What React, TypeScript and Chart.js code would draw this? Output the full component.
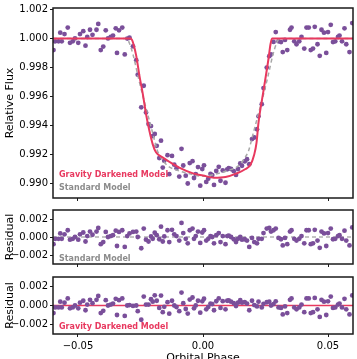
import React, { useEffect, useRef } from 'react';
import { Chart, registerables } from 'chart.js';

Chart.register(...registerables);

// ---------- data ----------
const phase = [
  -0.0598, -0.0591, -0.0578, -0.0571, -0.0565, -0.0554, -0.0541, -0.0532, -0.0521, -0.0512,
  -0.0499, -0.0492, -0.0479, -0.0470, -0.0463, -0.0452, -0.0442, -0.0426, -0.0419, -0.0409,
  -0.0399, -0.0389, -0.0380, -0.0369, -0.0360, -0.0349, -0.0344, -0.0336, -0.0323, -0.0313,
  -0.0303, -0.0294, -0.0280, -0.0267, -0.0261, -0.0247, -0.0237, -0.0228, -0.0218, -0.0208,
  -0.0201, -0.0193, -0.0185, -0.0175, -0.0168, -0.0161, -0.0155, -0.0142, -0.0135, -0.0124,
  -0.0115, -0.0106, -0.0095, -0.0086, -0.0079, -0.0069, -0.0061, -0.0053, -0.0042, -0.0036,
  -0.0029, -0.0020, -0.0011, -0.0003, 0.0004, 0.0013, 0.0021, 0.0030, 0.0037, 0.0044,
  0.0053, 0.0063, 0.0070, 0.0079, 0.0090, 0.0097, 0.0103, 0.0112, 0.0123, 0.0132,
  0.0140, 0.0149, 0.0156, 0.0167, 0.0176, 0.0185, 0.0196, 0.0205, 0.0216, 0.0222,
  0.0235, 0.0242, 0.0255, 0.0265, 0.0272, 0.0282, 0.0291, 0.0302, 0.0312, 0.0319,
  0.0328, 0.0337, 0.0348, 0.0354, 0.0365, 0.0374, 0.0385, 0.0394, 0.0405, 0.0414,
  0.0423, 0.0431, 0.0440, 0.0447, 0.0458, 0.0467, 0.0474, 0.0484, 0.0493, 0.0500,
  0.0511, 0.0520, 0.0529, 0.0540, 0.0546, 0.0556, 0.0566, 0.0573, 0.0586, 0.0597,
];

const flux = [
  0.99920, 0.99980, 0.99980, 1.00040, 0.99980, 1.00030, 1.00075, 0.99970, 0.99980, 1.00000,
  0.99970, 1.00030, 1.00050, 0.99950, 1.00010, 1.00060, 1.00025, 1.00060, 1.00100, 0.99920,
  0.99944, 1.00056, 1.00000, 1.00010, 1.00020, 1.00070, 0.99900, 1.00056, 1.00075, 0.99890,
  0.99999, 1.00005, 0.99946, 0.99850, 0.99750, 0.99525, 0.99674, 0.99490, 0.99410, 0.99396,
  0.99327, 0.99342, 0.99260, 0.99175, 0.99295, 0.99110, 0.99156, 0.99195, 0.99064, 0.99190,
  0.99130, 0.99105, 0.99048, 0.99239, 0.99124, 0.99054, 0.99000, 0.99141, 0.99154, 0.99038,
  0.99065, 0.99113, 0.98985, 0.99100, 0.99125, 0.99011, 0.99033, 0.99066, 0.99058, 0.98990,
  0.99086, 0.99115, 0.99019, 0.99090, 0.99005, 0.99098, 0.99105, 0.99100, 0.99085, 0.99059,
  0.99100, 0.99138, 0.99122, 0.99152, 0.99167, 0.99133, 0.99306, 0.99317, 0.99374, 0.99463,
  0.99547, 0.99658, 0.99799, 0.99878, 0.99890, 0.99976, 1.00044, 0.99980, 0.99975, 0.99906,
  0.99990, 0.99920, 1.00060, 1.00075, 0.99980, 0.99960, 0.99980, 1.00010, 0.99930, 1.00075,
  1.00075, 0.99920, 0.99930, 1.00080, 0.99960, 0.99880, 1.00060, 1.00040, 0.99900, 1.00044,
  1.00094, 0.99975, 0.99980, 1.00010, 1.00020, 0.99980, 1.00070, 0.99960, 0.99906, 1.00106,
];

const residStd = [
  -0.00080, -0.00020, -0.00020, 0.00040, -0.00020, 0.00030, 0.00075, -0.00030, -0.00020, 0.00000,
  -0.00030, 0.00030, 0.00050, -0.00050, 0.00010, 0.00060, 0.00025, 0.00060, 0.00100, -0.00080,
  -0.00056, 0.00056, 0.00000, 0.00010, 0.00020, 0.00070, -0.00100, 0.00056, 0.00075, -0.00110,
  0.00010, 0.00040, 0.00056, 0.00060, 0.00000, -0.00125, 0.00094, -0.00030, -0.00050, 0.00006,
  -0.00020, 0.00047, 0.00020, -0.00025, 0.00115, -0.00050, 0.00006, 0.00075, -0.00056, 0.00080,
  0.00030, 0.00010, -0.00040, 0.00156, 0.00044, -0.00020, -0.00070, 0.00075, 0.00094, -0.00020,
  0.00010, 0.00060, -0.00066, 0.00050, 0.00075, -0.00040, -0.00020, 0.00010, 0.00000, -0.00070,
  0.00020, 0.00044, -0.00056, 0.00010, -0.00080, 0.00010, 0.00015, 0.00000, -0.00025, -0.00056,
  -0.00020, 0.00000, -0.00030, -0.00025, -0.00040, -0.00110, -0.00010, -0.00056, -0.00070, -0.00020,
  -0.00020, 0.00044, 0.00094, 0.00100, 0.00060, 0.00075, 0.00094, -0.00010, -0.00025, -0.00094,
  -0.00010, -0.00080, 0.00060, 0.00075, -0.00020, -0.00040, -0.00020, 0.00010, -0.00070, 0.00075,
  0.00075, -0.00080, -0.00070, 0.00080, -0.00040, -0.00120, 0.00060, 0.00040, -0.00100, 0.00044,
  0.00094, -0.00025, -0.00020, 0.00010, 0.00020, -0.00020, 0.00070, -0.00040, -0.00094, 0.00106,
];

const residGD = [
  -0.00080, -0.00020, -0.00020, 0.00040, -0.00020, 0.00030, 0.00075, -0.00030, -0.00020, 0.00000,
  -0.00030, 0.00030, 0.00050, -0.00050, 0.00010, 0.00060, 0.00025, 0.00060, 0.00100, -0.00080,
  -0.00056, 0.00056, 0.00000, 0.00010, 0.00020, 0.00070, -0.00100, 0.00056, 0.00075, -0.00110,
  0.00000, 0.00005, -0.00004, 0.00000, -0.00060, -0.00150, 0.00094, 0.00010, 0.00010, 0.00066,
  0.00040, 0.00107, 0.00050, -0.00025, 0.00105, -0.00070, -0.00014, 0.00035, -0.00086, 0.00050,
  0.00000, -0.00016, -0.00060, 0.00136, 0.00024, -0.00037, -0.00085, 0.00062, 0.00084, -0.00030,
  0.00000, 0.00050, -0.00076, 0.00044, 0.00071, -0.00040, -0.00015, 0.00020, 0.00015, -0.00050,
  0.00045, 0.00074, -0.00026, 0.00046, -0.00040, 0.00050, 0.00055, 0.00040, 0.00025, -0.00006,
  0.00030, 0.00056, 0.00030, 0.00035, 0.00020, -0.00050, 0.00050, 0.00004, -0.00010, 0.00040,
  -0.00020, 0.00018, 0.00034, 0.00040, 0.00000, 0.00015, 0.00044, -0.00020, -0.00025, -0.00094,
  -0.00010, -0.00080, 0.00060, 0.00075, -0.00020, -0.00040, -0.00020, 0.00010, -0.00070, 0.00075,
  0.00075, -0.00080, -0.00070, 0.00080, -0.00040, -0.00120, 0.00060, 0.00040, -0.00100, 0.00044,
  0.00094, -0.00025, -0.00020, 0.00010, 0.00020, -0.00020, 0.00070, -0.00040, -0.00094, 0.00106,
];

const stdModelPhase = [
  -0.0600, -0.0306, -0.0295, -0.0280, -0.0260, -0.0240, -0.0220, -0.0200, -0.0183, -0.0165,
  -0.0140, -0.0100, -0.0050, 0.0000, 0.0050, 0.0100, 0.0140, 0.0165, 0.0183, 0.0200,
  0.0220, 0.0240, 0.0260, 0.0280, 0.0295, 0.0306, 0.0600,
];
const stdModelFlux = [
  1.0000, 1.0000, 0.9997, 0.9989, 0.9974, 0.9960, 0.9947, 0.9934, 0.9923, 0.9917,
  0.9912, 0.9909, 0.99065, 0.9905, 0.99065, 0.9909, 0.9912, 0.9917, 0.9923, 0.9934,
  0.9947, 0.9960, 0.9974, 0.9989, 0.9997, 1.0000, 1.0000,
];

const gdModelPhase = [
  -0.0600, -0.0290, -0.0284, -0.0278, -0.0267, -0.0254, -0.0241, -0.0227, -0.0214, -0.0201,
  -0.0188, -0.0162, -0.0135, -0.0095, -0.0040, 0.0000, 0.0044, 0.0090, 0.0135, 0.0170,
  0.0190, 0.0205, 0.0214, 0.0222, 0.0242, 0.0262, 0.0270, 0.0276, 0.0600,
];
const gdModelFlux = [
  1.0000, 1.0000, 0.9999, 0.9996, 0.9988, 0.9974, 0.9962, 0.9947, 0.9936, 0.9927,
  0.99215, 0.9918, 0.9915, 0.9911, 0.9907, 0.99055, 0.9904, 0.99045, 0.9907, 0.9910,
  0.9913, 0.9920, 0.9928, 0.9942, 0.9964, 0.9986, 0.9996, 1.0000, 1.0000,
];

const zeroPhase = [-0.06, 0.06];
const zeroValue = [0, 0];

const xTicks = [-0.05, 0.0, 0.05];
const fluxTicks = [0.990, 0.992, 0.994, 0.996, 0.998, 1.000, 1.002];
const residTicks = [-0.002, 0.0, 0.002];

// ---------- style ----------
const FONT = "'DejaVu Sans', 'Liberation Sans', sans-serif";
const PURPLE = '#7a4f9a';
const RED = '#e8395f';
const GRAY_LINE = '#a8a8a8';
const GRAY_ZERO = '#8a8a8a';
const GRAY_TEXT = '#8c8c8c';
const INK = '#1a1a1a';

const fmt = (v: number, d: number) => (v < -1e-12 ? '\u2212' : '') + Math.abs(v).toFixed(d);
const pts = (xs: number[], ys: number[]) => xs.map((x, i) => ({ x, y: ys[i] }));

const framePlugin = {
  id: 'frame',
  afterDraw(chart: any) {
    const { ctx, chartArea: a } = chart;
    ctx.save();
    ctx.strokeStyle = INK;
    ctx.lineWidth = 1.5;
    ctx.strokeRect(a.left, a.top, a.right - a.left, a.bottom - a.top);
    ctx.restore();
  },
};

const makeLabelPlugin = (items: { text: string; color: string; dy: number }[]) => ({
  id: 'panelLabels',
  afterDatasetsDraw(chart: any) {
    const { ctx, chartArea: a } = chart;
    ctx.save();
    ctx.font = `bold 8px ${FONT}`;
    ctx.textBaseline = 'middle';
    ctx.textAlign = 'left';
    items.forEach((it) => {
      ctx.fillStyle = it.color;
      ctx.fillText(it.text, a.left + 6, a.bottom + it.dy);
    });
    ctx.restore();
  },
});

type Kind = 'main' | 'std' | 'gd';

function buildConfig(kind: Kind): any {
  const showX = kind === 'gd';
  const isMain = kind === 'main';
  const datasets: any[] = [];
  const pointSet = {
    data: pts(phase, isMain ? flux : kind === 'std' ? residStd : residGD),
    pointRadius: 2.4,
    pointBackgroundColor: PURPLE,
    pointBorderWidth: 0,
    showLine: false,
    clip: 0,
  };
  if (isMain) {
    datasets.push({
      data: pts(gdModelPhase, gdModelFlux),
      showLine: true,
      borderColor: RED,
      borderWidth: 2,
      pointRadius: 0,
      cubicInterpolationMode: 'monotone',
      clip: 0,
    });
    datasets.push({
      data: pts(stdModelPhase, stdModelFlux),
      showLine: true,
      borderColor: GRAY_LINE,
      borderWidth: 1.5,
      borderDash: [4, 3],
      pointRadius: 0,
      cubicInterpolationMode: 'monotone',
      clip: 0,
    });
    datasets.push(pointSet);
  } else {
    datasets.push(pointSet);
    datasets.push({
      data: pts(zeroPhase, zeroValue),
      showLine: true,
      borderColor: kind === 'std' ? GRAY_ZERO : RED,
      borderWidth: kind === 'std' ? 1.2 : 1.5,
      borderDash: kind === 'std' ? [4, 3] : [],
      pointRadius: 0,
      clip: 0,
    });
  }

  const labelItems =
    kind === 'main'
      ? [
          { text: 'Gravity Darkened Model', color: RED, dy: -23 },
          { text: 'Standard Model', color: GRAY_TEXT, dy: -10 },
        ]
      : kind === 'std'
      ? [{ text: 'Standard Model', color: GRAY_TEXT, dy: -5.5 }]
      : [{ text: 'Gravity Darkened Model', color: RED, dy: -6.7 }];

  const yTicks = isMain ? fluxTicks : residTicks;

  return {
    type: 'scatter',
    data: { datasets },
    options: {
      responsive: false,
      animation: false,
      events: [],
      layout: { padding: { top: isMain ? 3 : 1, right: 2, bottom: 0, left: 0 } },
      plugins: { legend: { display: false }, tooltip: { enabled: false } },
      scales: {
        x: {
          type: 'linear',
          min: -0.06,
          max: 0.06,
          afterBuildTicks: (s: any) => {
            s.ticks = xTicks.map((v) => ({ value: v }));
          },
          afterFit: (s: any) => {
            s.height = showX ? 32 : 5;
          },
          grid: { drawOnChartArea: false, drawTicks: true, tickLength: 3, tickColor: INK, tickWidth: 1 },
          border: { display: false },
          ticks: {
            display: showX,
            padding: 3,
            color: '#000',
            autoSkip: false,
            maxRotation: 0,
            font: { family: FONT, size: 10 },
            callback: (v: any) => fmt(Number(v), 2),
          },
          title: {
            display: showX,
            text: 'Orbital Phase',
            color: '#000',
            font: { family: FONT, size: 11 },
            padding: { top: 0, bottom: 1 },
          },
        },
        y: {
          type: 'linear',
          min: isMain ? 0.989 : -0.003,
          max: isMain ? 1.0021 : 0.003,
          afterBuildTicks: (s: any) => {
            s.ticks = yTicks.map((v) => ({ value: v }));
          },
          afterFit: (s: any) => {
            s.width = 53;
          },
          grid: { drawOnChartArea: false, drawTicks: true, tickLength: 3, tickColor: INK, tickWidth: 1 },
          border: { display: false },
          ticks: {
            padding: 2,
            color: '#000',
            autoSkip: false,
            font: { family: FONT, size: 10 },
            callback: (v: any) => fmt(Number(v), 3),
          },
          title: {
            display: true,
            text: isMain ? 'Relative Flux' : 'Residual',
            color: '#000',
            font: { family: FONT, size: 11 },
            padding: { top: 4, bottom: 0 },
          },
        },
      },
    },
    plugins: [framePlugin, makeLabelPlugin(labelItems)],
  };
}

function Panel({ kind, top, height }: { kind: Kind; top: number; height: number }) {
  const ref = useRef<HTMLCanvasElement | null>(null);
  useEffect(() => {
    if (!ref.current) return;
    const chart = new Chart(ref.current, buildConfig(kind));
    return () => chart.destroy();
  }, [kind]);
  return (
    <canvas
      ref={ref}
      width={357}
      height={height}
      style={{ position: 'absolute', left: 0, top, width: 357, height, display: 'block' }}
    />
  );
}

export default function App() {
  return (
    <div
      style={{
        position: 'fixed',
        left: 0,
        top: 0,
        width: 357,
        height: 359,
        overflow: 'hidden',
        background: '#ffffff',
      }}
    >
      <Panel kind="main" top={0} height={206} />
      <Panel kind="std" top={202} height={70} />
      <Panel kind="gd" top={269} height={97} />
    </div>
  );
}
